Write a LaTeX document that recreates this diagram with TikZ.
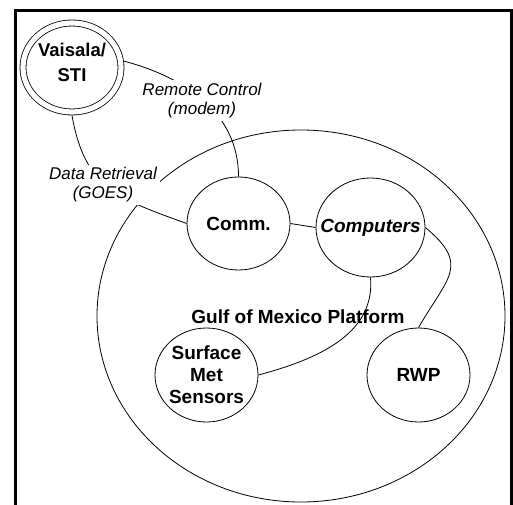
\documentclass[tikz,border=0pt]{standalone}
\usepackage{fontspec}
\setmainfont{Liberation Sans}
\usetikzlibrary{shapes.geometric}
\begin{document}
\begin{tikzpicture}[x=1pt,y=1pt,
  shp/.style={ellipse, draw, line width=0.8pt, inner sep=0pt, outer sep=0.4pt, fill=white},
  ntxt/.style={font=\fontsize{19}{22}\selectfont\bfseries, align=center, inner sep=0pt},
  vtxt/.style={font=\fontsize{18.5}{25}\selectfont\bfseries, align=center, inner sep=0pt},
  lbl/.style={font=\fontsize{17}{19}\selectfont\itshape, align=center, fill=white, inner sep=3pt},
  conn/.style={line width=0.8pt}]
\useasboundingbox (0,0) rectangle (513,504);
\fill[white] (0,0) rectangle (513,504);
\draw[line width=3.5pt] (15.5,-20) rectangle (511.5,493.7);
\node[ellipse, draw, line width=0.8pt, minimum width=408pt, minimum height=372pt, inner sep=0pt] (plat) at (301,188) {};
\node[ntxt] (gulf) at (298,187) {Gulf of Mexico Platform};
\node[shp, double, double distance=5.2pt, minimum width=98pt, minimum height=89pt, outer sep=3.5pt] (v) at (72,436.5) {};
\node[vtxt] (vt) at (72,441.5) {Vaisala/\\STI};
\node[shp, minimum width=103pt, minimum height=93pt, label={[ntxt]center:Comm.}] (comm) at (238.5,280.5) {};
\node[shp, minimum width=109pt, minimum height=99pt, label={[ntxt]center:\itshape Computers}] (comp) at (370.5,276.5) {};
\node[shp, minimum width=103pt, minimum height=94pt, label={[ntxt]center:Surface\\Met\\Sensors}] (surf) at (206.5,129) {};
\node[shp, minimum width=103pt, minimum height=94pt, label={[ntxt]center:RWP}] (rwp) at (418.5,129) {};
\draw[conn] (v.7) to[out=-15,in=90] (comm.north);
\draw[conn] (v.south) to[out=-80,in=160,looseness=1.2] (comm.west);
\draw[conn] (comm.east) -- (comp.west);
\draw[conn] (comp.south) to[out=-85,in=15] (surf.east);
\draw[conn] (comp.east) to[out=-40,in=60,looseness=1.5] (rwp.north);
\node[lbl] (rc) at (202,403.5) {Remote Control\\(modem)};
\node[lbl] (dr) at (103,319) {Data Retrieval\\(GOES)};
\end{tikzpicture}
\end{document}
